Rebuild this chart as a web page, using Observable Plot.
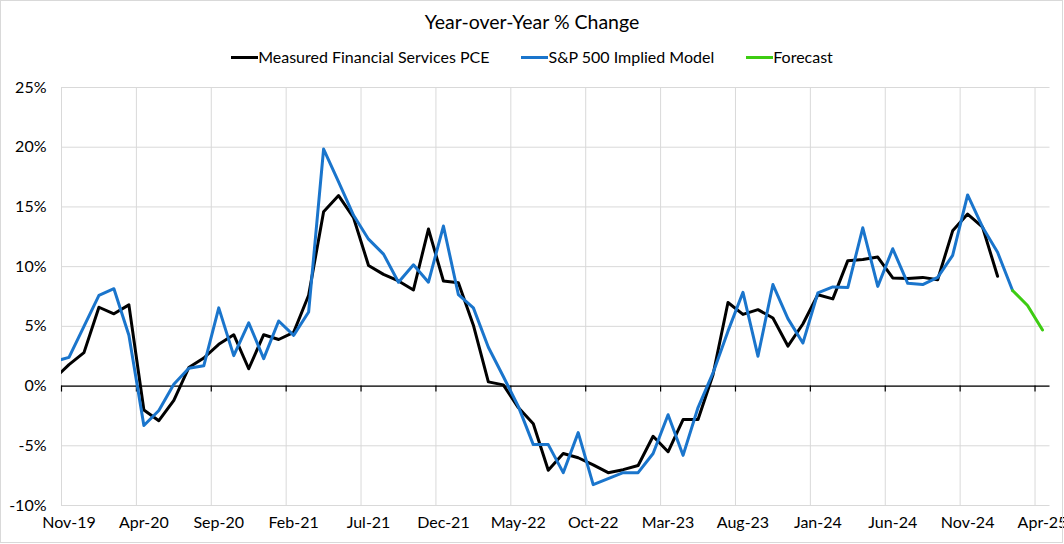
<!DOCTYPE html>
<html><head><meta charset="utf-8">
<script src="https://cdn.jsdelivr.net/npm/d3@7"></script>
<script src="https://cdn.jsdelivr.net/npm/@observablehq/plot@0.6"></script>
<style>
body{margin:0;background:#fff;font-family:Lato,"Open Sans",sans-serif;}
#wrap{position:relative;width:1064px;height:544px;overflow:hidden;}
#border{position:absolute;left:0;top:0;width:1063px;height:543px;box-sizing:border-box;border:1px solid #d9d9d9;pointer-events:none;}
#title{position:absolute;top:10px;left:0;width:1064px;text-align:center;font-size:19.5px;color:#000;line-height:24px;}
#legend{position:absolute;top:47px;left:0;width:1064px;display:flex;justify-content:center;align-items:center;font-size:16px;color:#000;line-height:20px;}
.item{display:flex;align-items:center;margin:0 16px;}
.sw{width:27px;height:3px;display:inline-block;}
#chart{position:absolute;left:0;top:70px;}
</style></head>
<body><div id="wrap">
<div id="title">Year-over-Year % Change</div>
<div id="legend"></div>
<div id="chart"></div>
<div id="border"></div>
</div>
<script>
// months from Oct-19 (index -1) to Apr-25 (index 65)
const startIndex = -1;
const tickLabels = ["Nov-19","Apr-20","Sep-20","Feb-21","Jul-21","Dec-21","May-22","Oct-22","Mar-23","Aug-23","Jan-24","Jun-24","Nov-24","Apr-25"];
const yTicks = [-10,-5,0,5,10,15,20,25];

// Measured Financial Services PCE, Oct-19 .. Jan-25
const measured = [0.6,1.8,2.8,6.6,6.05,6.8,-2.0,-2.9,-1.2,1.55,2.35,3.5,4.3,1.45,4.3,3.9,
  4.5,7.6,14.6,15.95,14.1,10.1,9.35,8.8,8.05,13.15,8.8,8.65,5.1,0.35,0.1,-1.8,-3.15,-7.05,
  -5.65,-6.0,-6.6,-7.25,-7.0,-6.65,-4.2,-5.5,-2.8,-2.8,0.95,7.0,6.0,6.4,5.7,3.35,5.2,7.65,
  7.3,10.5,10.6,10.8,9.05,9.0,9.1,8.9,13.0,14.4,13.3,9.2];
// S&P 500 Implied Model, Oct-19 .. Feb-25
const model = [2.05,2.4,5.0,7.6,8.15,4.25,-3.3,-2.05,0.15,1.5,1.7,6.55,2.55,5.3,2.3,5.45,
  4.25,6.2,19.85,17.1,14.3,12.3,11.05,8.7,10.15,8.7,13.4,7.65,6.55,3.25,0.8,-1.7,-4.9,-4.9,
  -7.25,-3.9,-8.25,-7.75,-7.25,-7.25,-5.65,-2.4,-5.8,-1.8,1.1,4.6,7.85,2.5,8.5,5.65,3.6,7.8,
  8.3,8.25,13.25,8.35,11.5,8.6,8.5,9.1,10.95,16.0,13.3,11.2,8.0];
// Forecast, Feb-25 .. Apr-25
const forecast = [8.0,6.75,4.7];
const forecastStart = 63;

const colors = {measured:"#000000", model:"#1a75cc", forecast:"#3dcc12"};
const legendItems = [
  ["Measured Financial Services PCE", colors.measured],
  ["S&P 500 Implied Model", colors.model],
  ["Forecast", colors.forecast]
];
const leg = document.getElementById("legend");
legendItems.forEach(([t,c])=>{
  const d=document.createElement("div");d.className="item";
  d.innerHTML=`<span class="sw" style="background:${c}"></span><span>${t}</span>`;
  leg.appendChild(d);
});

const rows = (vals,start)=>vals.map((v,k)=>({i:start+k,v}));
const labelTicks = tickLabels.map((_,k)=>k*5);
const gridTicks = tickLabels.map((_,k)=>k*5-0.5);

const chart = Plot.plot({
  width:1064, height:474,
  marginLeft:61, marginRight:14.5, marginTop:17, marginBottom:39,
  x:{type:"linear", domain:[-0.5,65.5], label:null},
  y:{domain:[-10,25], label:null},
  style:{fontFamily:"Lato, 'Open Sans', sans-serif", fontSize:"16px", color:"#000", background:"transparent", overflow:"visible"},
  marks:[
    Plot.gridX(gridTicks,{stroke:"#d9d9d9",strokeOpacity:1}),
    Plot.gridY(yTicks,{stroke:"#d9d9d9",strokeOpacity:1}),
    Plot.ruleY([0],{stroke:"#000",strokeWidth:1.2}),
    Plot.ruleX(gridTicks,{y1:0,y2:-0.5,stroke:"#000",strokeWidth:1.2}),
    Plot.axisY(yTicks,{tickSize:0,tickPadding:15,tickFormat:d=>d+"%",fontSize:16,label:null}),
    Plot.axisX(labelTicks,{tickSize:0,tickPadding:11,tickFormat:d=>tickLabels[Math.round(d/5)],fontSize:16,label:null}),
    Plot.line(rows(measured,startIndex),{x:"i",y:"v",stroke:colors.measured,strokeWidth:3,strokeLinejoin:"round",clip:true}),
    Plot.line(rows(model,startIndex),{x:"i",y:"v",stroke:colors.model,strokeWidth:3,strokeLinejoin:"round",clip:true}),
    Plot.line(rows(forecast,forecastStart),{x:"i",y:"v",stroke:colors.forecast,strokeWidth:3,strokeLinejoin:"round",clip:true})
  ]
});
document.getElementById("chart").appendChild(chart);
</script>
</body></html>
